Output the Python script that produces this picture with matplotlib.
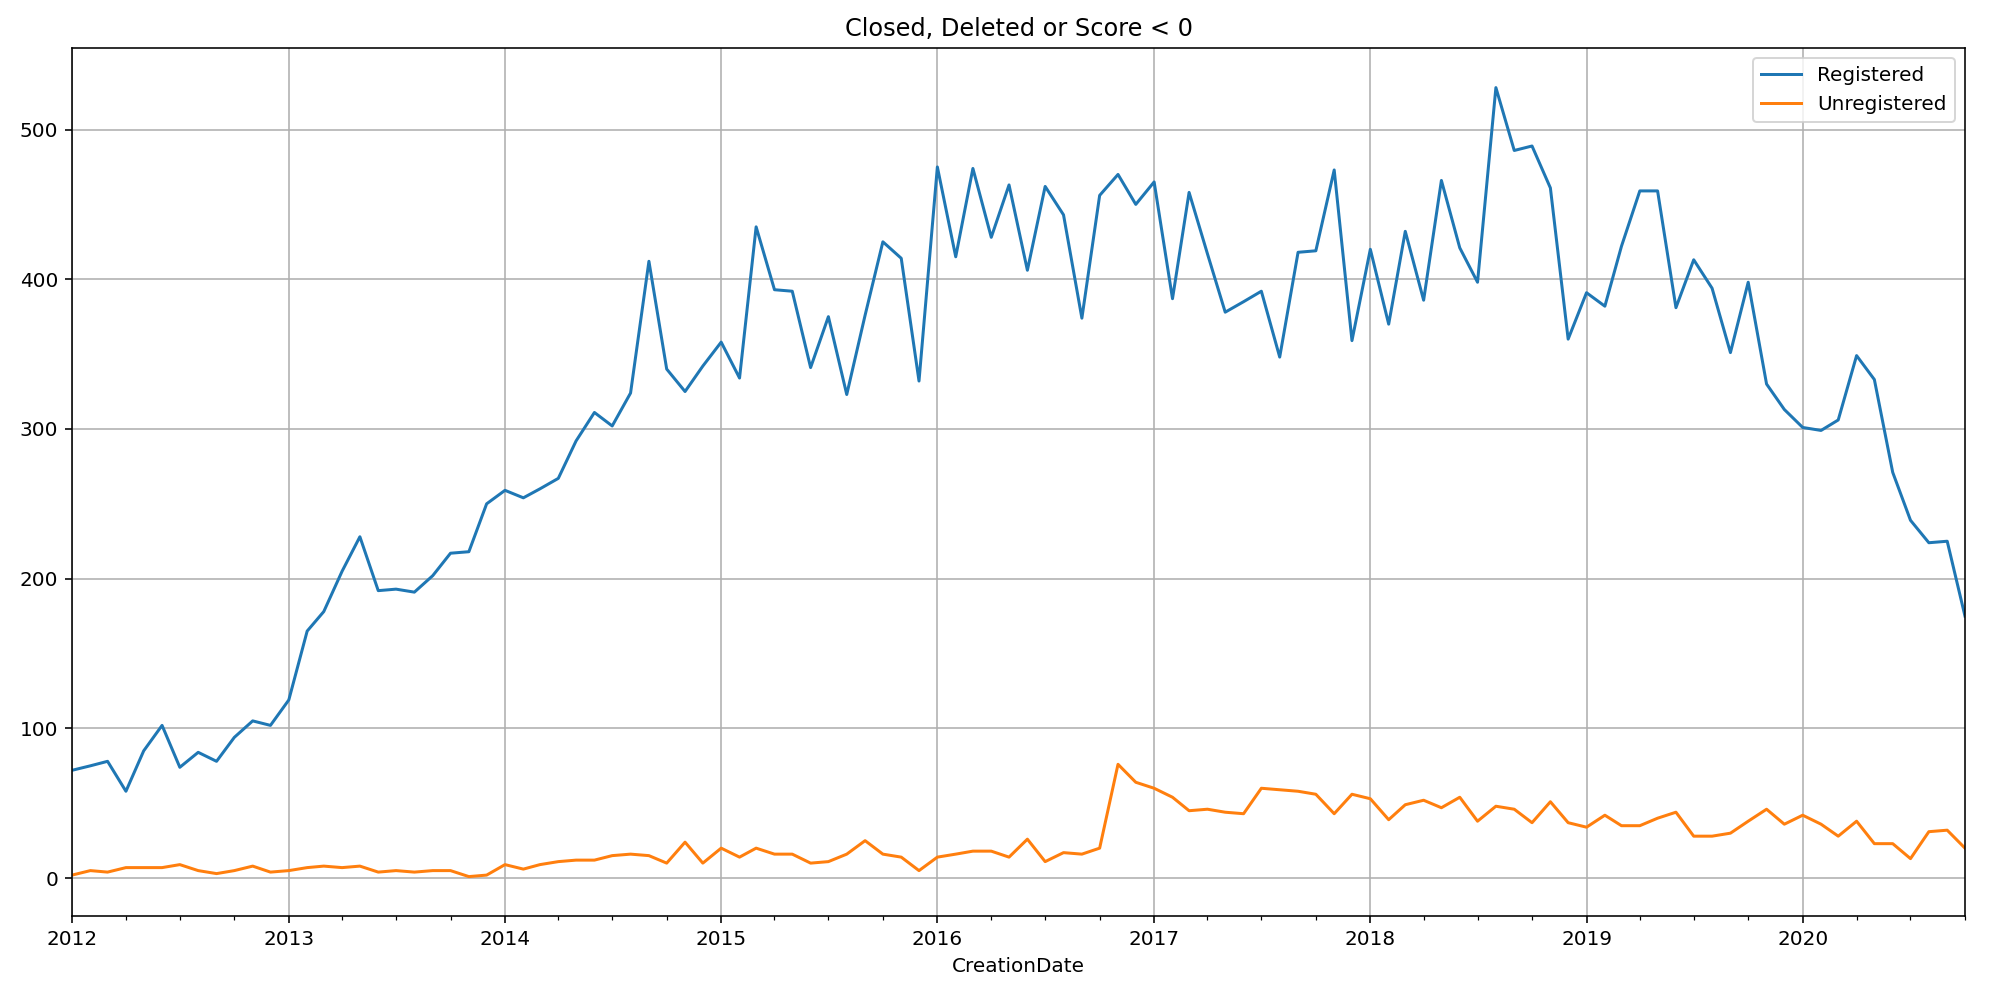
import datetime

import matplotlib
matplotlib.use('Agg')
import matplotlib.pyplot as plt
import matplotlib.dates as mdates

# monthly counts, Jan 2012 .. Oct 2020
registered = [72, 75, 78, 58, 85, 102, 74, 84, 78, 94, 105, 102,
              119, 165, 178, 205, 228, 192, 193, 191, 202, 217, 218, 250,
              259, 254, 260, 267, 292, 311, 302, 324, 412, 340, 325, 342,
              358, 334, 435, 393, 392, 341, 375, 323, 376, 425, 414, 332,
              475, 415, 474, 428, 463, 406, 462, 443, 374, 456, 470, 450,
              465, 387, 458, 417, 378, 385, 392, 348, 418, 419, 473, 359,
              420, 370, 432, 386, 466, 421, 398, 528, 486, 489, 461, 360,
              391, 382, 422, 459, 459, 381, 413, 394, 351, 398, 330, 313,
              301, 299, 306, 349, 333, 271, 239, 224, 225, 175]
unregistered = [2, 5, 4, 7, 7, 7, 9, 5, 3, 5, 8, 4,
                5, 7, 8, 7, 8, 4, 5, 4, 5, 5, 1, 2,
                9, 6, 9, 11, 12, 12, 15, 16, 15, 10, 24, 10,
                20, 14, 20, 16, 16, 10, 11, 16, 25, 16, 14, 5,
                14, 16, 18, 18, 14, 26, 11, 17, 16, 20, 76, 64,
                60, 54, 45, 46, 44, 43, 60, 59, 58, 56, 43, 56,
                53, 39, 49, 52, 47, 54, 38, 48, 46, 37, 51, 37,
                34, 42, 35, 35, 40, 44, 28, 28, 30, 38, 46, 36,
                42, 36, 28, 38, 23, 23, 13, 31, 32, 20]
start_year = 2012
months = [datetime.date(start_year + i // 12, i % 12 + 1, 1) for i in range(len(registered))]

fig = plt.figure(figsize=(2001 / 144, 993 / 144), dpi=144)
ax = fig.add_axes([0.036, 0.0775, 0.946, 0.874])
ax.plot(months, registered, label='Registered')
ax.plot(months, unregistered, label='Unregistered')
ax.set_xlim(months[0], months[-1])
ax.xaxis.set_major_locator(mdates.YearLocator())
ax.xaxis.set_major_formatter(mdates.DateFormatter('%Y'))
ax.xaxis.set_minor_locator(mdates.MonthLocator(bymonth=[1, 4, 7, 10]))
ax.grid(True)
ax.legend(loc='upper right')
ax.set_title('Closed, Deleted or Score < 0')
ax.set_xlabel('CreationDate')
fig.savefig('out.png', dpi=144)
